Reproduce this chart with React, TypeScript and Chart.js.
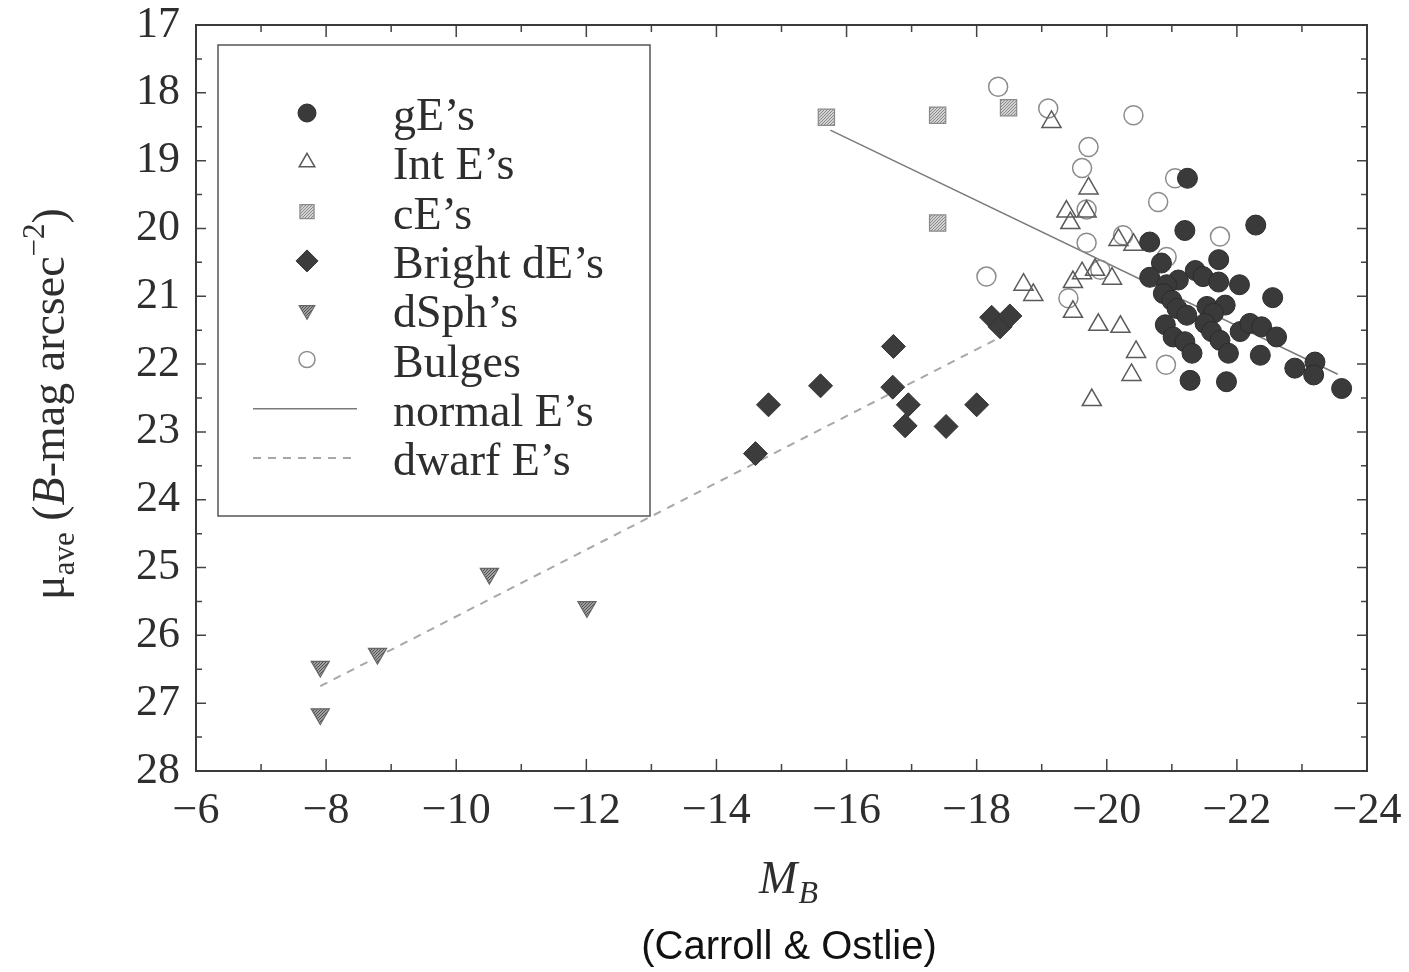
import React, { useEffect, useRef } from "react";
import { Chart, registerables } from "chart.js";
import { drawPoint } from "chart.js/helpers";

Chart.register(...registerables);

// ---------- data ----------
const gE_MB = [-21.24, -21.2, -22.29, -20.66, -21.72, -20.84, -20.66, -21.36, -21.48, -21.72, -22.04, -21.1, -20.92, -20.87, -21.0, -22.55, -21.08, -21.54, -21.82, -21.64, -21.23, -20.9, -21.51, -22.05, -22.2, -22.38, -22.61, -21.02, -21.61, -21.74, -21.2, -21.31, -21.87, -22.36, -23.2, -22.89, -23.18, -21.28, -21.84, -23.61];
const gE_mu = [19.26, 20.03, 19.95, 20.2, 20.46, 20.51, 20.72, 20.62, 20.71, 20.79, 20.83, 20.76, 20.83, 20.96, 21.06, 21.02, 21.18, 21.15, 21.13, 21.25, 21.28, 21.42, 21.4, 21.52, 21.4, 21.45, 21.6, 21.6, 21.52, 21.65, 21.67, 21.84, 21.84, 21.87, 21.97, 22.06, 22.16, 22.24, 22.26, 22.36];

const intE_MB = [-19.15, -19.72, -19.38, -19.69, -19.44, -20.18, -20.41, -18.72, -18.87, -19.48, -19.62, -19.82, -20.08, -19.48, -19.87, -20.21, -20.45, -20.38, -19.77];
const intE_mu = [18.43, 19.41, 19.75, 19.75, 19.92, 20.17, 20.24, 20.83, 20.98, 20.79, 20.66, 20.61, 20.74, 21.23, 21.42, 21.45, 21.82, 22.16, 22.53];

const cE_MB = [-15.69, -17.4, -18.49, -17.4];
const cE_mu = [18.36, 18.33, 18.22, 19.92];

const bdE_MB = [-16.72, -15.6, -16.71, -14.8, -16.95, -18.0, -16.9, -17.53, -14.6, -18.23, -18.36, -18.51];
const bdE_mu = [21.74, 22.32, 22.34, 22.6, 22.6, 22.6, 22.91, 22.92, 23.32, 21.31, 21.45, 21.29];

const dSph_MB = [-10.51, -12.01, -8.79, -7.91, -7.91];
const dSph_mu = [25.09, 25.58, 26.27, 26.46, 27.16];

const bulge_MB = [-18.33, -19.1, -20.41, -19.72, -19.62, -21.05, -20.79, -21.74, -19.69, -20.25, -20.92, -18.15, -19.9, -19.41, -20.91, -19.69];
const bulge_mu = [17.91, 18.23, 18.33, 18.8, 19.11, 19.26, 19.61, 20.12, 20.21, 20.1, 20.42, 20.71, 20.61, 21.03, 22.01, 19.72];

const normalE_MB = [-15.75, -23.55];
const normalE_mu = [18.55, 22.15];

const dwarfE_MB = [-7.91, -18.33];
const dwarfE_mu = [26.75, 21.62];

const seriesLabels = ["gE\u2019s", "Int E\u2019s", "cE\u2019s", "Bright dE\u2019s", "dSph\u2019s", "Bulges", "normal E\u2019s", "dwarf E\u2019s"];

const xTickValues = [-6, -8, -10, -12, -14, -16, -18, -20, -22, -24];
const yTickValues = [17, 18, 19, 20, 21, 22, 23, 24, 25, 26, 27, 28];

const pts = (xs: number[], ys: number[]) => xs.map((x, i) => ({ x, y: ys[i] }));

function makePattern(bg: string, dot: string): CanvasPattern | string {
  const c = document.createElement("canvas");
  c.width = 3;
  c.height = 3;
  const g = c.getContext("2d");
  if (!g) return bg;
  g.fillStyle = bg;
  g.fillRect(0, 0, 3, 3);
  g.fillStyle = dot;
  g.fillRect(0, 0, 1, 1);
  g.fillRect(2, 1, 1, 1);
  g.fillRect(1, 2, 1, 1);
  const p = g.createPattern(c, "repeat");
  return p || bg;
}

const SERIF = "'Liberation Serif', 'Times New Roman', serif";

const framePlugin = {
  id: "frameTicks",
  afterDatasetsDraw(chart: any) {
    const { ctx, chartArea: a, scales } = chart;
    const xs = scales.x;
    const ys = scales.y;
    ctx.save();
    ctx.strokeStyle = "#444";
    ctx.lineWidth = 1.5;
    for (let v = -24; v <= -6; v += 1) {
      const px = xs.getPixelForValue(v);
      const L = v % 2 === 0 ? 12 : 7;
      ctx.beginPath();
      ctx.moveTo(px, a.bottom);
      ctx.lineTo(px, a.bottom - L);
      ctx.moveTo(px, a.top);
      ctx.lineTo(px, a.top + L);
      ctx.stroke();
    }
    for (let v = 17; v <= 28; v += 0.5) {
      const py = ys.getPixelForValue(v);
      const L = Number.isInteger(v) ? 10 : 6;
      ctx.beginPath();
      ctx.moveTo(a.left, py);
      ctx.lineTo(a.left + L, py);
      ctx.moveTo(a.right, py);
      ctx.lineTo(a.right - L, py);
      ctx.stroke();
    }
    ctx.lineWidth = 2;
    ctx.strokeStyle = "#3a3a3a";
    ctx.strokeRect(a.left, a.top, a.right - a.left, a.bottom - a.top);
    ctx.restore();
  },
};

const legendPlugin = {
  id: "boxLegend",
  afterDatasetsDraw(chart: any) {
    const { ctx } = chart;
    const box = { l: 218, t: 45, r: 650, b: 516 };
    ctx.save();
    ctx.fillStyle = "#ffffff";
    ctx.fillRect(box.l, box.t, box.r - box.l, box.b - box.t);
    ctx.strokeStyle = "#555";
    ctx.lineWidth = 1.5;
    ctx.strokeRect(box.l, box.t, box.r - box.l, box.b - box.t);
    const markerX = 307;
    const textX = 393;
    const y0 = 113;
    const dy = 49.3;
    chart.data.datasets.forEach((ds: any, i: number) => {
      const y = y0 + i * dy;
      if (ds.isLine) {
        ctx.save();
        ctx.strokeStyle = ds.borderColor;
        ctx.lineWidth = ds.borderWidth;
        ctx.setLineDash(ds.borderDash || []);
        ctx.beginPath();
        ctx.moveTo(253, y);
        ctx.lineTo(357, y);
        ctx.stroke();
        ctx.restore();
      } else {
        ctx.save();
        ctx.fillStyle = ds.backgroundColor;
        ctx.strokeStyle = ds.borderColor;
        ctx.lineWidth = ds.borderWidth;
        drawPoint(ctx, { pointStyle: ds.pointStyle, rotation: ds.rotation || 0, radius: ds.legendRadius, borderWidth: ds.borderWidth }, markerX, y);
        ctx.restore();
      }
      ctx.fillStyle = "#2e2e2e";
      ctx.font = `46px ${SERIF}`;
      ctx.textAlign = "left";
      ctx.textBaseline = "alphabetic";
      ctx.fillText(ds.label, textX, y + 17);
    });
    ctx.restore();
  },
};

const titlesPlugin = {
  id: "axisTitles",
  afterDraw(chart: any) {
    const { ctx } = chart;
    ctx.save();
    ctx.fillStyle = "#2e2e2e";
    ctx.textBaseline = "alphabetic";
    ctx.textAlign = "left";
    // x title: M_B
    const fM = `italic 46px ${SERIF}`;
    const fB = `italic 32px ${SERIF}`;
    ctx.font = fM;
    const wM = ctx.measureText("M").width;
    ctx.font = fB;
    const wB = ctx.measureText("B").width;
    const x0 = 788 - (wM + wB) / 2;
    ctx.font = fM;
    ctx.fillText("M", x0, 893);
    ctx.font = fB;
    ctx.fillText("B", x0 + wM + 1, 903);

    // y title (rotated)
    const segs: [string, string, number][] = [
      ["\u03bc", `46px ${SERIF}`, 0],
      ["ave", `31px ${SERIF}`, 10],
      [" (", `46px ${SERIF}`, 0],
      ["B", `italic 46px ${SERIF}`, 0],
      ["-mag arcsec", `46px ${SERIF}`, 0],
      ["\u22122", `31px ${SERIF}`, -20],
      [")", `46px ${SERIF}`, 0],
    ];
    let total = 0;
    const widths = segs.map(([t, f]) => {
      ctx.font = f;
      const w = ctx.measureText(t).width;
      total += w;
      return w;
    });
    ctx.translate(64, 404);
    ctx.rotate(-Math.PI / 2);
    let cx = -total / 2;
    segs.forEach(([t, f, off], i) => {
      ctx.font = f;
      ctx.fillText(t, cx, off);
      cx += widths[i];
    });
    ctx.restore();
  },
};

export default function App() {
  const ref = useRef<HTMLCanvasElement | null>(null);

  useEffect(() => {
    if (!ref.current) return;
    const cEFill = makePattern("#d2d2d2", "#8a8a8a");
    const dSphFill = makePattern("#a0a0a0", "#505050");

    const chart = new Chart(ref.current, {
      type: "scatter",
      data: {
        datasets: [
          {
            label: seriesLabels[0],
            data: pts(gE_MB, gE_mu),
            pointStyle: "circle",
            pointRadius: 10,
            legendRadius: 9,
            backgroundColor: "#3a3a3a",
            borderColor: "#2c2c2c",
            borderWidth: 1,
            order: 1,
          } as any,
          {
            label: seriesLabels[1],
            data: pts(intE_MB, intE_mu),
            pointStyle: "triangle",
            pointRadius: 11,
            legendRadius: 9,
            backgroundColor: "rgba(255,255,255,0)",
            borderColor: "#5a5a5a",
            borderWidth: 1.5,
            order: 2,
          } as any,
          {
            label: seriesLabels[2],
            data: pts(cE_MB, cE_mu),
            pointStyle: "rect",
            pointRadius: 11.5,
            legendRadius: 10,
            backgroundColor: cEFill,
            borderColor: "#8a8a8a",
            borderWidth: 1.2,
            order: 3,
          } as any,
          {
            label: seriesLabels[3],
            data: pts(bdE_MB, bdE_mu),
            pointStyle: "rectRot",
            pointRadius: 12,
            legendRadius: 11,
            backgroundColor: "#3c3c3c",
            borderColor: "#333",
            borderWidth: 1,
            order: 1,
          } as any,
          {
            label: seriesLabels[4],
            data: pts(dSph_MB, dSph_mu),
            pointStyle: "triangle",
            rotation: 180,
            pointRotation: 180,
            pointRadius: 10.5,
            legendRadius: 9,
            backgroundColor: dSphFill,
            borderColor: "#666",
            borderWidth: 1.2,
            order: 3,
          } as any,
          {
            label: seriesLabels[5],
            data: pts(bulge_MB, bulge_mu),
            pointStyle: "circle",
            pointRadius: 9.5,
            legendRadius: 8,
            backgroundColor: "rgba(255,255,255,0)",
            borderColor: "#8c8c8c",
            borderWidth: 1.5,
            order: 2,
          } as any,
          {
            label: seriesLabels[6],
            type: "line",
            isLine: true,
            data: pts(normalE_MB, normalE_mu),
            showLine: true,
            pointRadius: 0,
            borderColor: "#7a7a7a",
            borderWidth: 1.5,
            fill: false,
            order: 10,
          } as any,
          {
            label: seriesLabels[7],
            type: "line",
            isLine: true,
            data: pts(dwarfE_MB, dwarfE_mu),
            showLine: true,
            pointRadius: 0,
            borderColor: "#a8a8a8",
            borderWidth: 2,
            borderDash: [8, 7],
            fill: false,
            order: 10,
          } as any,
        ],
      },
      options: {
        animation: false,
        responsive: false,
        devicePixelRatio: 1,
        layout: { padding: { left: 0, top: 25, right: 42, bottom: 0 } },
        plugins: {
          legend: { display: false },
          tooltip: { enabled: false },
          title: { display: false },
        },
        scales: {
          x: {
            type: "linear",
            min: -24,
            max: -6,
            reverse: true,
            grid: { display: false, drawTicks: false },
            border: { display: false },
            afterFit: (s: any) => {
              s.height = 201;
              s.paddingLeft = 0;
              s.paddingRight = 0;
              s.paddingTop = 0;
              s.paddingBottom = 0;
            },
            afterBuildTicks: (s: any) => {
              s.ticks = xTickValues.map((v) => ({ value: v }));
            },
            ticks: {
              padding: 14,
              color: "#2e2e2e",
              font: { family: SERIF, size: 44 },
              callback: (v: any) => (Number(v) < 0 ? "\u2212" + Math.abs(Number(v)) : String(v)),
            },
          },
          y: {
            type: "linear",
            min: 17,
            max: 28,
            reverse: true,
            grid: { display: false, drawTicks: false },
            border: { display: false },
            afterFit: (s: any) => {
              s.width = 196;
              s.paddingLeft = 0;
              s.paddingRight = 0;
              s.paddingTop = 0;
              s.paddingBottom = 0;
            },
            afterBuildTicks: (s: any) => {
              s.ticks = yTickValues.map((v) => ({ value: v }));
            },
            ticks: {
              padding: 16,
              color: "#2e2e2e",
              font: { family: SERIF, size: 44 },
              callback: (v: any) => String(v),
            },
          },
        },
      } as any,
      plugins: [framePlugin, legendPlugin, titlesPlugin],
    });
    return () => chart.destroy();
  }, []);

  return (
    <div style={{ position: "fixed", left: 0, top: 0, width: 1409, height: 972, background: "#fff", overflow: "hidden" }}>
      <canvas ref={ref} width={1409} height={972} style={{ width: 1409, height: 972, display: "block" }} />
      <div
        style={{
          position: "absolute",
          left: 0,
          width: 1578,
          top: 922,
          textAlign: "center",
          fontFamily: "'Liberation Sans', Arial, sans-serif",
          fontSize: 40,
          lineHeight: "46px",
          color: "#111",
        }}
      >
        (Carroll &amp; Ostlie)
      </div>
    </div>
  );
}
